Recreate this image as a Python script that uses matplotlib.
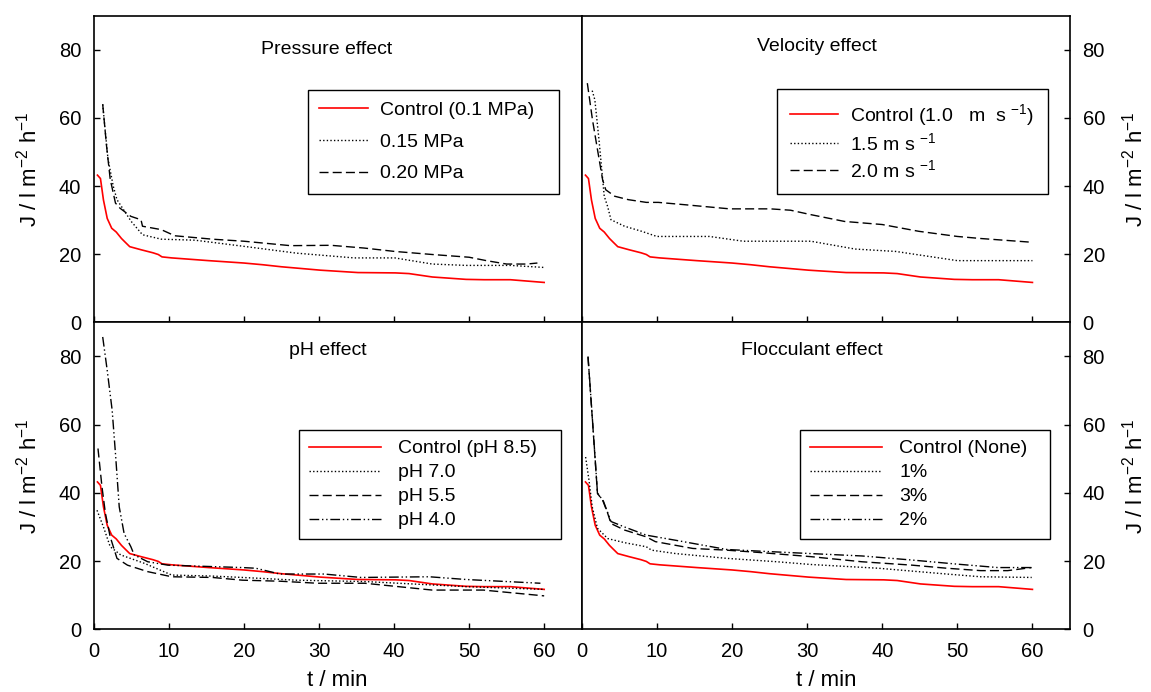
import matplotlib
matplotlib.use('Agg')
import matplotlib.pyplot as plt

plt.rcParams['font.family'] = ['Liberation Sans', 'DejaVu Sans']
plt.rcParams['mathtext.fontset'] = 'custom'
plt.rcParams['mathtext.rm'] = 'Liberation Sans'
plt.rcParams['mathtext.it'] = 'Liberation Sans:italic'

# control run (same in all four panels)
t_ctrl = [0.5, 0.9, 1.3, 1.8, 2.4, 3.0, 3.7, 4.2, 4.8, 6.3, 7.9, 8.6, 9.1, 10.4, 15.3, 20, 22.5, 25,
          30.2, 35.2, 40.2, 42, 45.1, 49.6, 52, 55.5, 60]
J_ctrl = [43.2, 42.2, 35.9, 30.5, 27.6, 26.5, 24.6, 23.5, 22.2, 21.3, 20.4, 19.9, 19.2, 18.9, 18.1, 17.4,
          16.9, 16.3, 15.3, 14.6, 14.5, 14.3, 13.3, 12.6, 12.5, 12.5, 11.7]

# pressure effect
t_p15 = [1.2, 1.5, 1.9, 2.6, 3.1, 5.0, 6.5, 9.0, 13.5, 20, 27, 34.7, 40.1, 45.1, 49.6, 55.5, 60]
J_p15 = [64, 57, 48, 40, 36, 29.6, 25.7, 24.4, 24.1, 22.3, 20.3, 18.9, 18.9, 17.1, 16.7, 16.7, 16.1]
t_p20 = [1.2, 1.7, 2.2, 2.9, 3.5, 4.95, 6.3, 6.5, 9.0, 10.8, 15.8, 20, 26.2, 31.6, 36, 40.1, 45.1, 50,
         52.3, 55, 57.7, 59.1]
J_p20 = [64, 52, 42, 35, 33.5, 31.1, 30.1, 28.2, 27.2, 25.4, 24.4, 23.8, 22.5, 22.6, 21.8, 20.8, 19.9,
         19.1, 18.1, 17.1, 17.1, 17.4]

# velocity effect
t_v15 = [1.4, 1.75, 2.3, 3.0, 3.45, 3.9, 5.7, 8.0, 10, 17, 21.5, 30.5, 36.4, 41.8, 50, 60]
J_v15 = [68, 65.3, 53.6, 37, 34, 30.1, 28.2, 26.7, 25.2, 25.2, 23.8, 23.8, 21.5, 20.8, 18.1, 18.1]
t_v20 = [0.75, 1.43, 2.1, 2.78, 3.2, 4.4, 6.2, 8.6, 10.2, 13.8, 19.7, 25.1, 27.8, 30.5, 35, 40, 44.9,
         50, 53.1, 59.9]
J_v20 = [70.2, 59.5, 50.7, 41.9, 38.9, 37, 36, 35.2, 35.2, 34.5, 33.3, 33.3, 32.9, 31.6, 29.6, 28.7,
         26.7, 25.2, 24.6, 23.5]

# pH effect
t_ph70 = [0.44, 1.3, 2.2, 3.6, 6.8, 10.4, 15.8, 19.8, 27, 36.1, 40.6, 49.6, 60]
J_ph70 = [34.9, 30, 24.2, 21.8, 19.3, 15.9, 15.6, 15.2, 14.4, 14, 13.5, 12.5, 11.7]
t_ph55 = [0.57, 1.1, 1.56, 2.2, 3.1, 4.5, 7.2, 10.4, 15.8, 19.8, 24.8, 29.8, 36.1, 40.6, 45.1, 51.9, 60]
J_ph55 = [53, 41.8, 34, 27.1, 20.8, 18.8, 16.9, 15.4, 15.2, 14.4, 14.1, 13.5, 13.5, 12.5, 11.5, 11.5, 9.8]
t_ph40 = [1.2, 1.8, 2.46, 2.9, 3.4, 4.05, 4.95, 5.4, 7.2, 9.9, 19.8, 21.6, 24.8, 30.7, 35.6, 44.7,
          49.6, 59.5]
J_ph40 = [85.7, 75.9, 64.2, 51.5, 35.9, 28.1, 24.2, 21.8, 19.8, 18.8, 18.1, 17.9, 16.2, 16.2, 15.2,
          15.4, 14.6, 13.5]

# flocculant effect
t_f1 = [0.52, 0.97, 1.4, 2.1, 3.46, 5.7, 8.6, 9.3, 12.5, 19.3, 26, 30.5, 39.5, 48.6, 53.1, 59.9]
J_f1 = [50.5, 43.7, 35.9, 29.6, 26.6, 25.4, 24.2, 23.2, 22.2, 20.8, 19.8, 19, 17.9, 16.2, 15.4, 15.2]
t_f3 = [0.84, 1.43, 2.1, 2.78, 3.46, 3.9, 5.7, 8.6, 9.8, 14.8, 19.3, 23.8, 30.5, 37.3, 44, 48.6, 53.1,
        56.7, 59.9]
J_f3 = [79.8, 61.3, 39.8, 37.9, 34, 31, 29.1, 27.1, 25.7, 23.7, 23.2, 22.5, 21.3, 19.8, 18.8, 17.9,
        17.2, 17.2, 18.1]
t_f2 = [0.84, 1.43, 2.1, 2.9, 3.9, 5.7, 8.6, 12.5, 19.3, 23.8, 30.5, 37.3, 44, 50, 55.4, 59.9]
J_f2 = [80, 61.5, 40, 37.5, 31.6, 30, 27.6, 26.1, 23.4, 22.9, 22.2, 21.5, 20.3, 19.1, 18.1, 18.1]

DOT = (0, (1, 1.6))
DASH = (0, (6.5, 3))
DDOT = (0, (7, 2, 1, 2, 1, 2))
RED = dict(color='#ff0000', lw=1.2)
BLK = dict(color='black', lw=1.0)

W, H = 1151, 692
fig = plt.figure(figsize=(W / 100, H / 100), dpi=100)

def px_axes(x0, y0, x1, y1):
    return fig.add_axes([x0 / W, 1 - y1 / H, (x1 - x0) / W, (y1 - y0) / H])

ax_p = px_axes(93.7, 15.7, 581.7, 322.3)
ax_v = px_axes(581.7, 15.7, 1070, 322.3)
ax_h = px_axes(93.7, 322.3, 581.7, 629.3)
ax_f = px_axes(581.7, 322.3, 1070, 629.3)

for ax in (ax_p, ax_v, ax_h, ax_f):
    ax.set_xlim(0, 65)
    ax.set_ylim(0, 90)
    ax.set_xticks(range(0, 61, 10))
    ax.set_yticks(range(0, 81, 20))
    for s in ax.spines.values():
        s.set_linewidth(1.2)
    ax.tick_params(direction='in', length=4, width=1, labelsize=14.5, pad=9,
                   top=False, right=False)

for ax in (ax_v, ax_f):
    ax.tick_params(left=False, labelleft=False, right=True, labelright=True)
for ax in (ax_p, ax_v):
    ax.tick_params(labelbottom=False)

# pressure
ax_p.plot(t_ctrl, J_ctrl, label='Control (0.1 MPa)', **RED)
ax_p.plot(t_p15, J_p15, ls=DOT, label='0.15 MPa', **BLK)
ax_p.plot(t_p20, J_p20, ls=DASH, label='0.20 MPa', **BLK)
ax_p.text(0.478, 0.89, 'Pressure effect', transform=ax_p.transAxes, ha='center', va='center', fontsize=14)

# velocity
ax_v.plot(t_ctrl, J_ctrl, label='Control (1.0   m  s $\\mathregular{^{-1}}$)', **RED)
ax_v.plot(t_v15, J_v15, ls=DOT, label='1.5 m s $\\mathregular{^{-1}}$', **BLK)
ax_v.plot(t_v20, J_v20, ls=DASH, label='2.0 m s $\\mathregular{^{-1}}$', **BLK)
ax_v.text(0.482, 0.898, 'Velocity effect', transform=ax_v.transAxes, ha='center', va='center', fontsize=14)

# pH
ax_h.plot(t_ctrl, J_ctrl, label='Control (pH 8.5)', **RED)
ax_h.plot(t_ph70, J_ph70, ls=DOT, label='pH 7.0', **BLK)
ax_h.plot(t_ph55, J_ph55, ls=DASH, label='pH 5.5', **BLK)
ax_h.plot(t_ph40, J_ph40, ls=DDOT, label='pH 4.0', **BLK)
ax_h.text(0.48, 0.907, 'pH effect', transform=ax_h.transAxes, ha='center', va='center', fontsize=14)

# flocculant
ax_f.plot(t_ctrl, J_ctrl, label='Control (None)', **RED)
ax_f.plot(t_f1, J_f1, ls=DOT, label='1%', **BLK)
ax_f.plot(t_f3, J_f3, ls=DASH, label='3%', **BLK)
ax_f.plot(t_f2, J_f2, ls=DDOT, label='2%', **BLK)
ax_f.text(0.472, 0.907, 'Flocculant effect', transform=ax_f.transAxes, ha='center', va='center', fontsize=14)

def leg(ax, x0, y1, w, hl, tp, ls, bp):
    lg = ax.legend(loc='upper left', bbox_to_anchor=(x0, y1 - 0.3, w, 0.3), mode='expand',
                   borderaxespad=0, fontsize=14, fancybox=False, edgecolor='black',
                   framealpha=1, handlelength=hl, handletextpad=tp, labelspacing=ls,
                   borderpad=bp)
    lg.get_frame().set_linewidth(1.0)

leg(ax_p, 0.439, 0.758, 0.514, 2.5, 0.62, 0.73, 0.58)
leg(ax_v, 0.400, 0.761, 0.555, 2.5, 0.62, 0.25, 0.65)
leg(ax_h, 0.421, 0.649, 0.537, 3.7, 0.9, 0.33, 0.5)
leg(ax_f, 0.447, 0.649, 0.512, 3.7, 0.9, 0.33, 0.5)

ylab = 'J / l m$\\mathregular{^{-2}}$ h$\\mathregular{^{-1}}$'
for xc in (29, 1135):
    for yc in (169, 476):
        fig.text(xc / W, 1 - yc / H, ylab, rotation=90, ha='center', va='center', fontsize=16)
for xc in (337.7, 825.8):
    fig.text(xc / W, 1 - 680 / H, 't / min', ha='center', va='center', fontsize=16)

fig.savefig('out.png', dpi=100)
